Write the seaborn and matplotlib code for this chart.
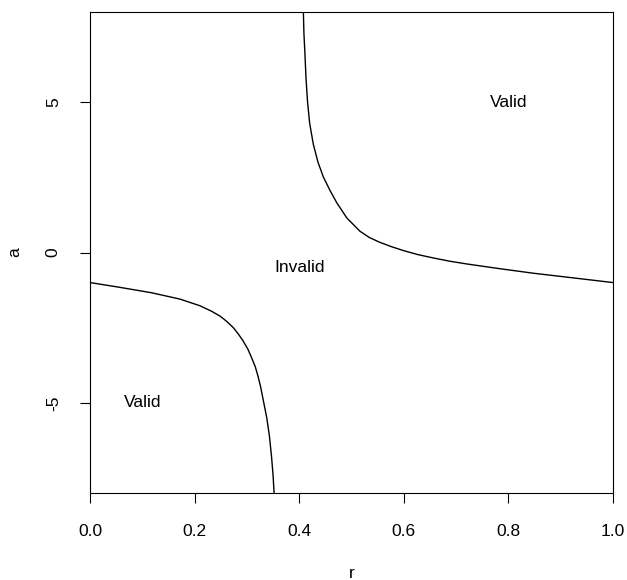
import pandas as pd
import matplotlib.pyplot as plt
import seaborn as sns

# boundary curves (r, a)
lower_r = [0.0, 0.054, 0.118, 0.172, 0.21, 0.232, 0.249, 0.262, 0.274, 0.284, 0.293, 0.302, 0.309, 0.316, 0.321, 0.326, 0.330, 0.334, 0.338, 0.343, 0.347, 0.350, 0.352]
lower_a = [-1.0, -1.15, -1.34, -1.55, -1.77, -1.95, -2.12, -2.3, -2.5, -2.72, -2.95, -3.22, -3.5, -3.8, -4.1, -4.45, -4.8, -5.15, -5.5, -6.1, -6.77, -7.4, -8.0]

upper_r = [0.408, 0.409, 0.411, 0.413, 0.416, 0.420, 0.427, 0.436, 0.446, 0.459, 0.472, 0.491, 0.516, 0.534, 0.554, 0.577, 0.6, 0.627, 0.656, 0.688, 0.72, 0.784, 0.848, 0.912, 1.0]
upper_a = [8.0, 7.3, 6.6, 5.8, 5.0, 4.3, 3.6, 3.0, 2.52, 2.06, 1.65, 1.15, 0.71, 0.5, 0.34, 0.19, 0.06, -0.07, -0.18, -0.29, -0.38, -0.54, -0.69, -0.82, -1.0]

region_labels = ["Valid", "Invalid", "Valid"]
label_r = [0.8, 0.4, 0.1]
label_a = [5, -0.5, -5]

x_ticks = [0.0, 0.2, 0.4, 0.6, 0.8, 1.0]
y_ticks = [-5, 0, 5]

sns.set_style("white")
plt.rcParams['font.family'] = ['Liberation Sans', 'DejaVu Sans']
plt.rcParams['text.color'] = 'black'
plt.rcParams['axes.labelcolor'] = 'black'
plt.rcParams['xtick.color'] = 'black'
plt.rcParams['ytick.color'] = 'black'

fig = plt.figure(figsize=(6.27, 5.8), dpi=100)
ax = fig.add_axes([90 / 627, 87 / 580, 523 / 627, 481 / 580])

lower = pd.DataFrame({"r": lower_r, "a": lower_a})
upper = pd.DataFrame({"r": upper_r, "a": upper_a})
sns.lineplot(data=lower, x="r", y="a", sort=False, estimator=None, color="black", lw=1.0, ax=ax)
sns.lineplot(data=upper, x="r", y="a", sort=False, estimator=None, color="black", lw=1.0, ax=ax)

for txt, rx, ay in zip(region_labels, label_r, label_a):
    ax.text(rx, ay, txt, ha="center", va="center", fontsize=12.5, color="black")

ax.set_xlim(0, 1)
ax.set_ylim(-8, 8)
ax.set_xticks(x_ticks)
ax.set_xticklabels([f"{t:.1f}" for t in x_ticks])
ax.set_yticks(y_ticks)
ax.set_yticklabels([str(t) for t in y_ticks], rotation=90, va="center")
ax.tick_params(axis="both", direction="out", length=7, width=0.8, colors="black",
               labelsize=12.5, bottom=True, left=True)
ax.tick_params(axis="x", pad=15)
ax.tick_params(axis="y", pad=14)
for s in ax.spines.values():
    s.set_color("black")
    s.set_linewidth(0.8)

ax.set_xlabel("r", fontsize=12.5, labelpad=20)
ax.set_ylabel("a", fontsize=12.5, labelpad=17)

plt.savefig("out.png", dpi=100)
